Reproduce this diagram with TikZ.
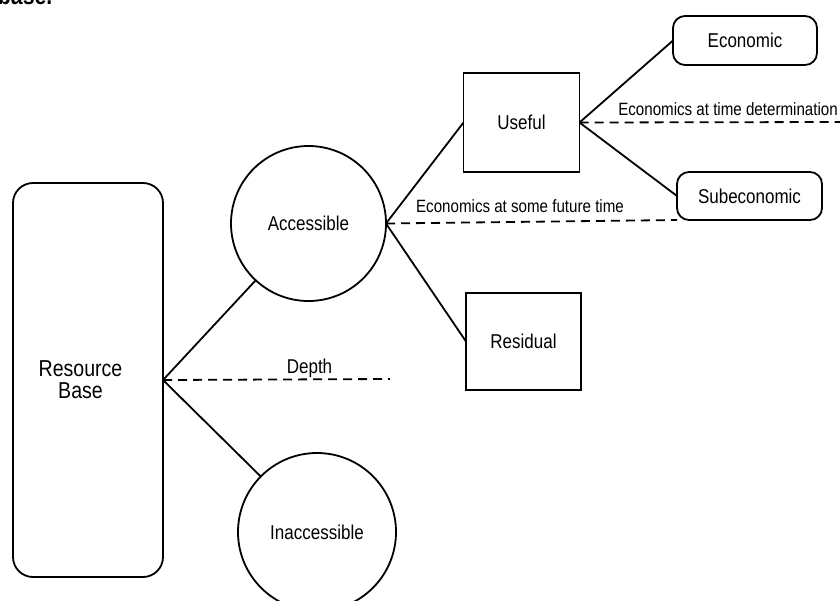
\documentclass[tikz,border=0pt]{standalone}
\usepackage{fontspec}
\setmainfont[FakeStretch=0.85]{Liberation Sans}
\begin{document}
\begin{tikzpicture}[x=1pt,y=-1pt,
  every node/.style={inner sep=0pt,outer sep=0pt},
  edge/.style={line width=1.8pt,black},
  dashline/.style={line width=1.8pt,black,dash pattern=on 9pt off 6pt},
  big/.style={font=\fontsize{20}{22}\selectfont},
  small/.style={font=\fontsize{17.8}{20}\selectfont},
  roundbox/.style={draw,line width=1.8pt,rounded corners=12pt,big},
  sqbox/.style={draw,line width=1.8pt,big},
  disc/.style={draw,circle,line width=1.8pt,big}]
\useasboundingbox (0,0) rectangle (840,600);

% caption fragment running off the top edge
\node[anchor=base west,font=\fontsize{25}{27}\selectfont\bfseries] (frag) at (-2,4) {base.};

% main shapes
\node[draw,line width=1.8pt,rounded corners=20pt,minimum width=150pt,minimum height=394pt] (rb) at (88,380) {};
\node[align=center,font=\fontsize{23}{21.7}\selectfont] (rbtext) at (80.5,380) {Resource\\Base};
\node[disc,minimum size=155pt] (acc) at (308.5,223.5) {Accessible};
\node[disc,minimum size=158pt] (inacc) at (317,532) {Inaccessible};
\node[sqbox,minimum width=116pt,minimum height=99pt] (useful) at (521.5,122.5) {Useful};
\node[sqbox,minimum width=115pt,minimum height=97pt] (resid) at (523.5,341.5) {Residual};
\node[roundbox,minimum width=144pt,minimum height=49pt] (econ) at (745,40.5) {Economic};
\node[roundbox,minimum width=145pt,minimum height=48pt] (subeco) at (749.5,196) {Subeconomic};

% free ends of dashed lines
\coordinate (depthend) at (390,379);
\coordinate (timeend) at (842,122);

% connectors
\draw[edge] (rb.east) -- (acc);
\draw[edge] (rb.east) -- (inacc);
\draw[dashline] (rb.east) -- (depthend);
\draw[edge] (acc.east) -- (useful.west);
\draw[edge] (acc.east) -- (resid.west);
\draw[dashline] (acc.east) -- (subeco.south west);
\draw[edge] (useful.east) -- (econ.west);
\draw[edge] (useful.east) -- (subeco.west);
\draw[dashline] (useful.east) -- (timeend);

% dashed-line labels
\node[big,anchor=base] (ldepth) at (309.5,373) {Depth};
\node[small,anchor=base] (lfuture) at (520,212.7) {Economics at some future time};
\node[small,anchor=base] (ltime) at (728,115) {Economics at time determination};
\end{tikzpicture}
\end{document}
